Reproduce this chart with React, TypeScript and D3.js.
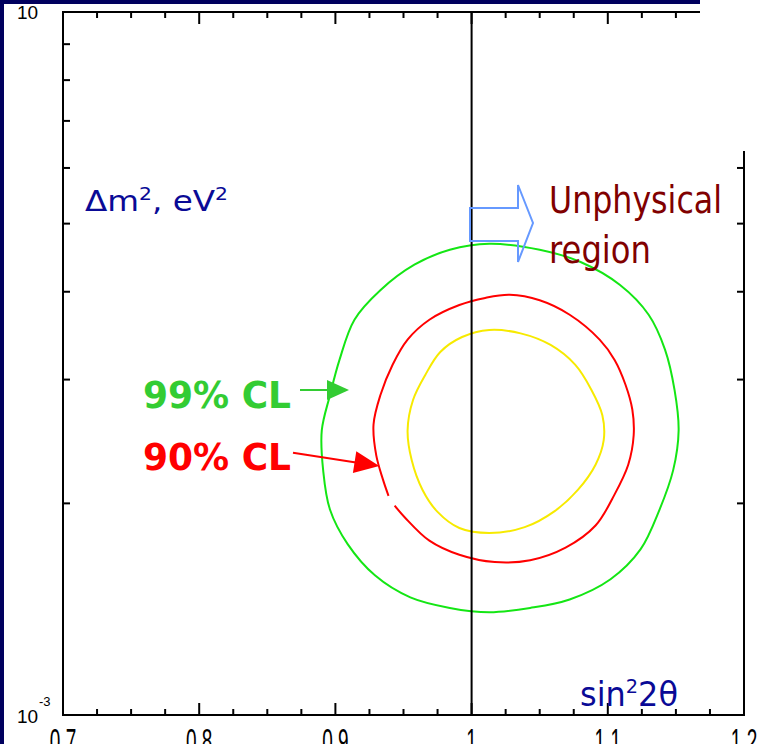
import React from "react";
import * as d3 from "d3";

const W = 762;
const H = 744;

// Axis definitions
const xDomain: [number, number] = [0.7, 1.2];
const yDomain: [number, number] = [1e-3, 1e-2];
const xMajor = [0.7, 0.8, 0.9, 1.0, 1.1, 1.2];
const xMajorLabels = ["0.7", "0.8", "0.9", "1", "1.1", "1.2"];
const xMinorStep = 0.025;
const yMinor = [2e-3, 3e-3, 4e-3, 5e-3, 6e-3, 7e-3, 8e-3, 9e-3];

// Physical boundary sin^2(2θ) = 1
const physicalLimit = 1.0;

// Confidence contours: [sin^2 2θ, Δm^2 (eV^2)]
const contour99: [number, number][] = [
  [1.013, 4.68e-3], [1.05, 4.59e-3], [1.08, 4.41e-3], [1.109, 4.09e-3],
  [1.13, 3.71e-3], [1.142, 3.31e-3], [1.149, 2.9e-3], [1.152, 2.54e-3],
  [1.148, 2.23e-3], [1.138, 1.96e-3], [1.124, 1.72e-3], [1.102, 1.56e-3],
  [1.072, 1.46e-3], [1.043, 1.42e-3], [1.013, 1.4e-3], [0.984, 1.42e-3],
  [0.955, 1.47e-3], [0.929, 1.58e-3], [0.909, 1.75e-3], [0.896, 1.96e-3],
  [0.891, 2.23e-3], [0.89, 2.54e-3], [0.896, 2.85e-3], [0.903, 3.2e-3],
  [0.914, 3.65e-3], [0.933, 4.02e-3], [0.958, 4.37e-3], [0.984, 4.59e-3],
];

// 90% CL contour is open where it is interrupted on the lower-left side
const contour90: [number, number][] = [
  [0.9435, 1.985e-3], [0.951, 1.91e-3], [0.969, 1.77e-3], [0.991, 1.69e-3],
  [1.017, 1.65e-3], [1.043, 1.66e-3], [1.069, 1.73e-3], [1.091, 1.86e-3],
  [1.105, 2.06e-3], [1.115, 2.27e-3], [1.119, 2.5e-3], [1.118, 2.72e-3],
  [1.113, 2.95e-3], [1.105, 3.2e-3], [1.094, 3.42e-3], [1.072, 3.71e-3],
  [1.05, 3.89e-3], [1.028, 3.96e-3], [1.01, 3.92e-3], [0.991, 3.83e-3],
  [0.969, 3.65e-3], [0.953, 3.42e-3], [0.942, 3.15e-3], [0.933, 2.85e-3],
  [0.928, 2.59e-3], [0.93, 2.34e-3], [0.935, 2.16e-3], [0.939, 2.05e-3],
];

const contour68: [number, number][] = [
  [1.013, 3.53e-3], [1.036, 3.49e-3], [1.058, 3.36e-3], [1.076, 3.15e-3],
  [1.088, 2.9e-3], [1.096, 2.67e-3], [1.097, 2.46e-3], [1.091, 2.27e-3],
  [1.078, 2.09e-3], [1.061, 1.95e-3], [1.039, 1.85e-3], [1.013, 1.815e-3],
  [0.991, 1.845e-3], [0.975, 1.945e-3], [0.964, 2.09e-3], [0.956, 2.305e-3],
  [0.953, 2.54e-3], [0.957, 2.806e-3], [0.966, 3.046e-3], [0.977, 3.284e-3],
  [0.993, 3.449e-3],
];

const NAVY = "#00005e";
const TEXT_BLUE = "#0a0a96";
const SANS = "'DejaVu Sans', Verdana, sans-serif";
const ARIAL = "'Liberation Sans', Arial, sans-serif";

export default function App() {
  const x = d3.scaleLinear().domain(xDomain).range([63, 744]);
  const y = d3.scaleLog().domain(yDomain).range([715, 12]);

  const closed = d3
    .line<[number, number]>()
    .x((d) => x(d[0]))
    .y((d) => y(d[1]))
    .curve(d3.curveCatmullRomClosed.alpha(0.5));
  const open = d3
    .line<[number, number]>()
    .x((d) => x(d[0]))
    .y((d) => y(d[1]))
    .curve(d3.curveCatmullRom.alpha(0.5));

  const xMinor = d3
    .range(xDomain[0], xDomain[1] + 1e-9, xMinorStep)
    .filter((v) => !xMajor.some((m) => Math.abs(m - v) < 1e-6));

  const [x0, x1] = x.range();
  const [yb, yt] = y.range();

  return (
    <svg
      width={W}
      height={H}
      viewBox={`0 0 ${W} ${H}`}
      style={{ position: "absolute", left: 0, top: 0, background: "#fff" }}
    >
      <rect x={0} y={0} width={W} height={H} fill="#fff" />

      {/* contours */}
      <path d={closed(contour99) ?? ""} fill="none" stroke="#14e614" strokeWidth={2} />
      <path d={open(contour90) ?? ""} fill="none" stroke="#ff0000" strokeWidth={2} />
      <path d={closed(contour68) ?? ""} fill="none" stroke="#f7ea00" strokeWidth={2} />

      {/* physical boundary */}
      <line
        x1={x(physicalLimit)}
        x2={x(physicalLimit)}
        y1={yt}
        y2={yb}
        stroke="#000"
        strokeWidth={2}
      />

      {/* frame */}
      <rect
        x={x0}
        y={yt}
        width={x1 - x0}
        height={yb - yt}
        fill="none"
        stroke="#000"
        strokeWidth={2}
      />

      {/* x ticks, bottom and top */}
      {xMajor.map((v) => (
        <g key={`xM${v}`}>
          <line x1={x(v)} x2={x(v)} y1={yb} y2={yb - 12} stroke="#000" strokeWidth={2} />
          <line x1={x(v)} x2={x(v)} y1={yt} y2={yt + 12} stroke="#000" strokeWidth={2} />
        </g>
      ))}
      {xMinor.map((v) => (
        <g key={`xm${v}`}>
          <line x1={x(v)} x2={x(v)} y1={yb} y2={yb - 6} stroke="#000" strokeWidth={2} />
          <line x1={x(v)} x2={x(v)} y1={yt} y2={yt + 6} stroke="#000" strokeWidth={2} />
        </g>
      ))}

      {/* y ticks, left and right */}
      {yMinor.map((v) => (
        <g key={`ym${v}`}>
          <line x1={x0} x2={x0 + 7} y1={y(v)} y2={y(v)} stroke="#000" strokeWidth={2} />
          <line x1={x1} x2={x1 - 7} y1={y(v)} y2={y(v)} stroke="#000" strokeWidth={2} />
        </g>
      ))}

      {/* x tick labels (tall narrow glyphs, running off the page bottom) */}
      {xMajor.map((v, i) => (
        <text
          key={`xl${v}`}
          transform={`translate(${x(v)},753) scale(1,1.8)`}
          textAnchor="middle"
          fontFamily={ARIAL}
          fontSize={19}
          fill="#000"
        >
          {xMajorLabels[i]}
        </text>
      ))}

      {/* y tick labels */}
      <text x={17} y={19} fontFamily={ARIAL} fontSize={19} fill="#000">
        10
      </text>
      <text x={17} y={723} fontFamily={ARIAL} fontSize={19} fill="#000">
        10
      </text>
      <text x={39} y={706} fontFamily={ARIAL} fontSize={13} fill="#000">
        -3
      </text>

      {/* unphysical region arrow */}
      <path
        d="M470,208 L518,208 L518,185 L533,223 L518,262 L518,241 L470,241 Z"
        fill="none"
        stroke="#6699ff"
        strokeWidth={2}
      />

      {/* annotation arrows */}
      <line x1={300} y1={390} x2={330} y2={390} stroke="#33cc33" strokeWidth={2} />
      <path d="M327,380 L349,390 L327,400 Z" fill="#33cc33" />
      <line x1={293} y1={452.7} x2={356} y2={462.4} stroke="#ff0000" strokeWidth={2} />
      <path d="M379.3,466 L356.3,451.3 L352.9,473.1 Z" fill="#ff0000" />

      {/* annotation text */}
      <text
        x={143}
        y={408}
        fontFamily={SANS}
        fontWeight="bold"
        fontSize={38}
        textLength={148}
        lengthAdjust="spacingAndGlyphs"
        fill="#33cc33"
      >
        99% CL
      </text>
      <text
        x={143}
        y={470}
        fontFamily={SANS}
        fontWeight="bold"
        fontSize={38}
        textLength={148}
        lengthAdjust="spacingAndGlyphs"
        fill="#ff0000"
      >
        90% CL
      </text>
      <text
        x={549}
        y={213}
        fontFamily={SANS}
        fontSize={37}
        textLength={173}
        lengthAdjust="spacingAndGlyphs"
        fill="#800000"
      >
        Unphysical
      </text>
      <text
        x={549}
        y={263}
        fontFamily={SANS}
        fontSize={37}
        textLength={102}
        lengthAdjust="spacingAndGlyphs"
        fill="#800000"
      >
        region
      </text>
      <text
        x={85}
        y={211}
        fontFamily={SANS}
        fontSize={29}
        textLength={143}
        lengthAdjust="spacingAndGlyphs"
        fill={TEXT_BLUE}
      >
        Δm<tspan fontSize={18} dy={-11}>2</tspan>
        <tspan dy={11}>, eV</tspan>
        <tspan fontSize={18} dy={-11}>2</tspan>
      </text>
      <text
        x={580}
        y={706}
        fontFamily={SANS}
        fontSize={33}
        textLength={98}
        lengthAdjust="spacingAndGlyphs"
        fill={TEXT_BLUE}
      >
        sin<tspan fontSize={20} dy={-13}>2</tspan>
        <tspan dy={13}>2θ</tspan>
      </text>

      {/* page frame */}
      <rect x={700} y={0} width={W - 700} height={151} fill="#fff" />
      <rect x={0} y={0} width={700} height={4} fill={NAVY} />
      <rect x={0} y={0} width={4} height={H} fill={NAVY} />
    </svg>
  );
}
